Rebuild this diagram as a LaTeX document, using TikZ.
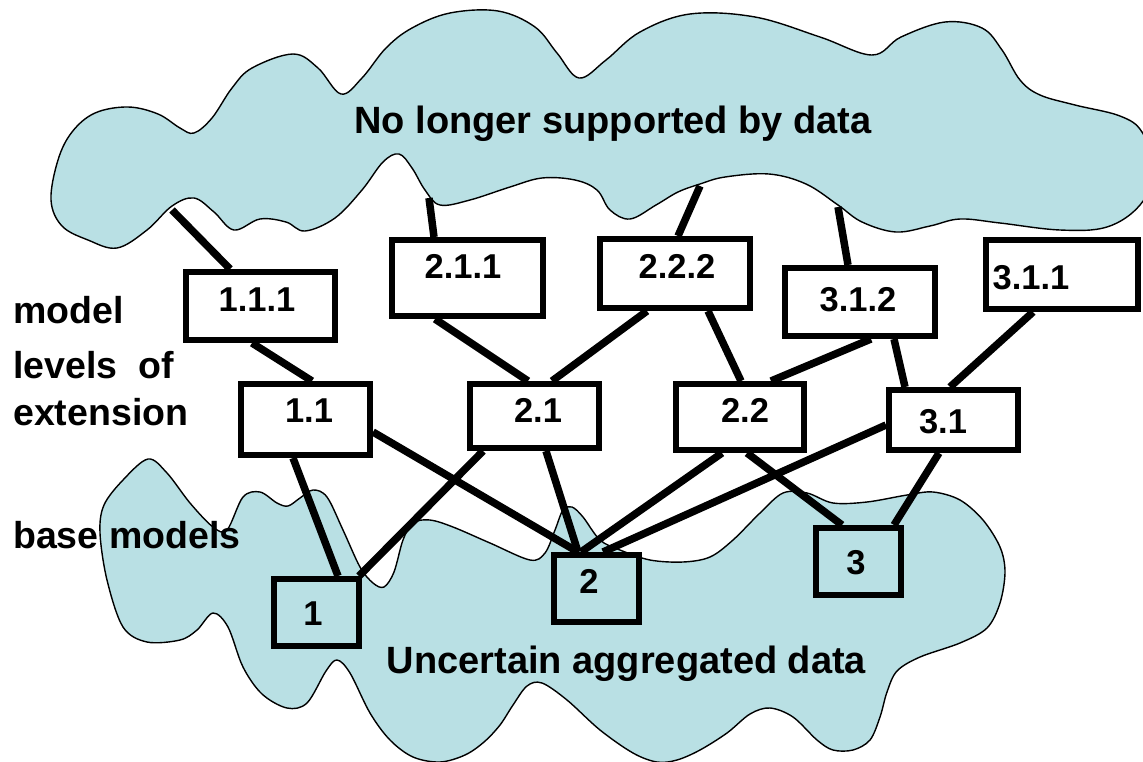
\documentclass[tikz,border=0pt]{standalone}
\usepackage{fontspec}
\setmainfont{Liberation Sans}
\definecolor{cloudfill}{RGB}{185,224,228}
\pgfdeclarelayer{cloudlayer}
\pgfdeclarelayer{linklayer}
\pgfsetlayers{cloudlayer,linklayer,main}
\tikzset{
  cloudshape/.style={draw=black, line width=1.4pt, fill=cloudfill},
  box/.style={draw=black, line width=6pt, fill=white, rectangle, inner sep=0pt},
  basebox/.style={box, fill=cloudfill, minimum width=85pt, minimum height=67pt},
  link/.style={draw=black, line width=7.5pt},
  bigtxt/.style={font=\fontsize{38}{40}\selectfont\bfseries, inner sep=0pt, anchor=base},
  sidetxt/.style={font=\fontsize{37.5}{40}\selectfont\bfseries, inner sep=0pt, anchor=base west},
  boxtxt/.style={font=\fontsize{34.5}{38}\selectfont\bfseries, inner sep=0pt, anchor=base},
}
\begin{document}
\begin{tikzpicture}[x=1pt,y=-1pt]
\useasboundingbox (0,0) rectangle (1143,761);
\begin{pgfonlayer}{cloudlayer}
\begin{scope}
\clip (0,0) rectangle (1143,761);
% top cloud
\draw[cloudshape] plot[smooth cycle, tension=0.6] coordinates {
(51,200) (58,160) (72,132) (95,113) (128,107) (158,114) (180,128) (194,133)
(212,118) (232,88) (252,68) (293,54) (318,68) (341,94) (362,78) (386,48)
(412,28) (450,13) (498,11) (535,27) (557,53) (579,78) (606,60) (640,32)
(690,14) (755,17) (820,37) (872,55) (901,37) (945,22) (982,28) (1002,50)
(1020,80) (1040,95) (1075,105) (1120,116) (1142,132) (1155,170) (1140,205)
(1107,227) (1060,230) (1000,223) (960,219) (930,226) (896,232) (862,222)
(838,205) (806,184) (769,174) (725,177) (700,184) (678,192) (656,205) (630,219)
(610,210) (597,190) (575,180) (542,178) (510,187) (470,200) (440,205) (425,190)
(412,168) (399,154) (383,162) (362,190) (335,218) (305,231) (286,222) (260,219)
(234,230) (214,212) (194,198) (172,206) (147,230) (117,248) (88,240) (62,226)};
% bottom cloud
\draw[cloudshape] plot[smooth cycle, tension=0.55] coordinates {
(148,459) (167,473) (190,503) (213,527) (227,530) (243,497) (260,492) (277,503)
(288,506) (300,498) (313,490) (327,497) (343,530) (360,567) (373,583) (384,587)
(394,572) (403,540) (413,523) (430,520) (453,527) (490,543) (530,560) (545,553)
(555,530) (563,510) (572,507) (583,517) (600,540) (620,550) (650,560) (683,562)
(710,557) (733,540) (760,513) (783,493) (807,493) (833,503) (867,502) (907,495)
(933,492) (960,500) (983,520) (1000,547) (1005,572) (1000,603) (987,628)
(960,643) (920,657) (897,671) (887,692) (880,717) (870,740) (853,750) (833,750)
(817,740) (793,717) (770,708) (750,714) (727,733) (700,750) (677,760) (657,762)
(633,753) (600,730) (567,700) (542,683) (527,686) (513,705) (500,725) (484,742)
(465,755) (440,762) (413,757) (390,740) (370,713) (350,673) (337,660) (326,671)
(307,703) (287,708) (262,694) (243,667) (228,627) (213,613) (197,630) (180,640)
(147,642) (123,627) (107,580) (100,533) (104,505) (123,480)};
\end{scope}
\end{pgfonlayer}

\node[bigtxt] (ttop) at (613,133) {No longer supported by data};
\node[bigtxt] (tbot) at (626.5,673) {Uncertain aggregated data};

\node[sidetxt] (lmodel) at (13,323) {model};
\node[sidetxt] (llevels) at (13,378) {levels\ \ of};
\node[sidetxt] (lext) at (13,425) {extension};
\node[sidetxt] (lbase) at (13,548) {base models};

% anchor points on the top cloud
\coordinate (c1) at (172,210);
\coordinate (c2) at (429,198);
\coordinate (c3) at (700,186);
\coordinate (c4) at (838,207);

% boxes
\node[box, minimum width=149pt, minimum height=68pt] (b111) at (260.5,306) {};
\node[box, minimum width=151pt, minimum height=76pt] (b211) at (467.5,278) {};
\node[box, minimum width=150pt, minimum height=69pt] (b222) at (675,273.5) {};
\node[box, minimum width=150pt, minimum height=68pt] (b312) at (860,302) {};
\node[box, minimum width=152pt, minimum height=69pt] (b311) at (1062,274.5) {};
\node[box, minimum width=129pt, minimum height=71pt] (b11) at (305.5,419.5) {};
\node[box, minimum width=129pt, minimum height=64pt] (b21) at (534.5,416) {};
\node[box, minimum width=128pt, minimum height=66pt] (b22) at (740,417) {};
\node[box, minimum width=129pt, minimum height=60pt] (b31) at (953.5,420) {};
\node[basebox] (b1) at (316.5,612.5) {};
\node[basebox] (b2) at (596.5,588.5) {};
\node[basebox] (b3) at (858.5,561.5) {};

% connectors, beneath the boxes
\begin{pgfonlayer}{linklayer}
\draw[link] (c1) -- ([xshift=47pt]b111.north west);
\draw[link] (c2) -- ([xshift=45pt]b211.north west);
\draw[link] (c3) -- ([xshift=81pt]b222.north west);
\draw[link] (c4) -- ([xshift=66pt]b312.north west);
\draw[link] ([xshift=69pt]b111.south west) -- ([xshift=74pt]b11.north west);
\draw[link] ([xshift=46pt]b211.south west) -- ([xshift=61pt]b21.north west);
\draw[link] ([xshift=50pt]b222.south west) -- ([xshift=85pt]b21.north west);
\draw[link] ([xshift=111pt]b222.south west) -- ([xshift=68pt]b22.north west);
\draw[link] ([xshift=89pt]b312.south west) -- ([xshift=98pt]b22.north west);
\draw[link] ([xshift=112pt]b312.south west) -- ([xshift=19pt]b31.north west);
\draw[link] ([xshift=50pt]b311.south west) -- ([xshift=64pt]b31.north west);
\draw[link] ([xshift=55pt]b11.south west) -- ([xshift=67pt]b1.north west);
\draw[link] ([yshift=-12.5pt]b11.east) -- ([xshift=27pt]b2.north west);
\draw[link] ([xshift=16pt]b21.south west) -- ([xshift=-3pt]b1.north east);
\draw[link] ([xshift=79pt]b21.south west) -- ([xshift=27pt]b2.north west);
\draw[link] ([xshift=49pt]b22.south west) -- ([xshift=30pt]b2.north west);
\draw[link] ([xshift=74pt]b22.south west) -- ([xshift=29pt]b3.north west);
\draw[link] ([yshift=-5pt]b31.west) -- ([xshift=52pt]b2.north west);
\draw[link] ([xshift=53pt]b31.south west) -- ([xshift=81pt]b3.north west);
\end{pgfonlayer}

% box labels
\node[boxtxt] (t111) at (257,311) {1.1.1};
\node[boxtxt] (t211) at (463,278) {2.1.1};
\node[boxtxt] (t222) at (677,278) {2.2.2};
\node[boxtxt] (t312) at (858,311) {3.1.2};
\node[boxtxt] (t311) at (1031,289) {3.1.1};
\node[boxtxt] (t11) at (309,422) {1.1};
\node[boxtxt] (t21) at (538,422) {2.1};
\node[boxtxt] (t22) at (745,422) {2.2};
\node[boxtxt] (t31) at (943,433) {3.1};
\node[boxtxt] (t1) at (313,625) {1};
\node[boxtxt] (t2) at (589,593) {2};
\node[boxtxt] (t3) at (856,574) {3};
\end{tikzpicture}
\end{document}
